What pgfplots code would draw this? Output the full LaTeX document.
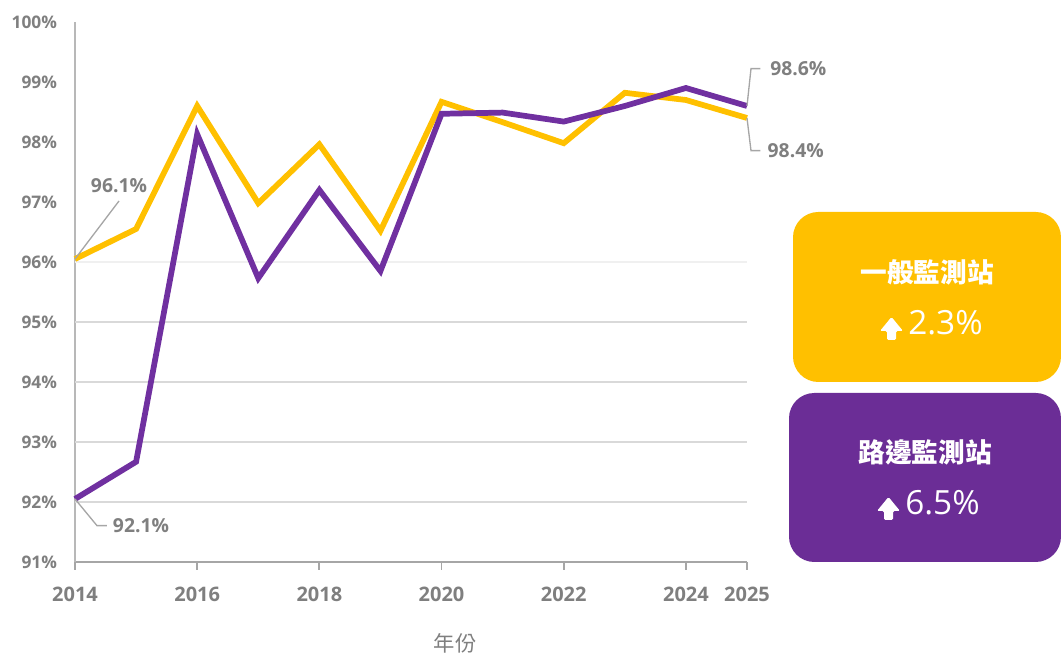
\documentclass[border=0pt]{standalone}
\usepackage{pgfplots}
\pgfplotsset{compat=1.18}
\usepackage{fontspec}
\setmainfont{Open Sans}
\newfontfamily\cjk{Noto Sans CJK TC}
\definecolor{cyel}{HTML}{FFC000}
\definecolor{cpur}{HTML}{7030A0}
\definecolor{cbox}{HTML}{6B2D96}
\definecolor{ctxt}{HTML}{7F7F7F}
\definecolor{cgrid}{HTML}{D9D9D9}
\definecolor{caxis}{HTML}{A6A6A6}

\begin{document}
\begin{tikzpicture}
\useasboundingbox (-56.25pt,-69.75pt) rectangle (739.5pt,421.5pt);
\begin{axis}[
    at={(0,0)}, anchor=south west,
    scale only axis,
    width=504pt, height=405pt,
    xmin=0, xmax=11,
    ymin=91, ymax=100,
    xtick={0,2,4,6,8,10,11},
    xticklabels={2014,2016,2018,2020,2022,2024,2025},
    ytick={91,92,...,100},
    axis x line*=bottom,
    axis y line*=left,
    x axis line style={-, draw=caxis, line width=1.3pt},
    y axis line style={-, draw=caxis!80, line width=1pt},
    ytick style={draw=none},
    xtick style={draw=caxis, line width=1.3pt},
    tick align=outside,
    major tick length=6pt,
    /pgf/number format/assume math mode=true,
    yticklabel={\pgfmathprintnumber{\tick}\%},
    x tick label style={font=\bfseries\fontsize{15}{18}\selectfont, text=ctxt, yshift=-9pt},
    y tick label style={font=\bfseries\fontsize{13}{16}\selectfont, text=ctxt, xshift=-4pt},
    xlabel={\cjk 年份},
    every axis x label/.style={at={(axis description cs:0.5655,0)}, anchor=center, yshift=-61pt, font=\fontsize{16}{19}\selectfont, text=ctxt},
    clip=false,
]
% horizontal grid lines only in the lower part of the chart
\pgfplotsinvokeforeach{92,93,94,95}{
  \draw[cgrid, line width=0.9pt] (axis cs:0,#1) -- (axis cs:11,#1);
}
\draw[cgrid!40, line width=0.9pt] (axis cs:0,96) -- (axis cs:11,96);

% x = years since 2014
\addplot[cyel, line width=4.3pt, line join=miter] coordinates {
  (0,96.05) (1,96.55) (2,98.6) (3,96.98) (4,97.96) (5,96.52)
  (6,98.67) (7,98.33) (8,97.98) (9,98.82) (10,98.7) (11,98.4)};
\addplot[cpur, line width=4.3pt, line join=miter] coordinates {
  (0,92.05) (1,92.67) (2,98.13) (3,95.73) (4,97.2) (5,95.85)
  (6,98.47) (7,98.49) (8,98.34) (9,98.6) (10,98.9) (11,98.6)};

\draw[caxis, line width=1pt] (axis cs:0,96.05) -- ++(33pt,43.5pt)
  node[anchor=south, inner sep=0pt, yshift=6pt, text=ctxt, font=\bfseries\fontsize{14.5}{17}\selectfont] {96.1\%};
\draw[caxis, line width=1pt] (axis cs:0,92.05) -- ++(16.5pt,-20pt) -- ++(7.5pt,0pt)
  node[anchor=west, inner sep=0pt, xshift=4pt, text=ctxt, font=\bfseries\fontsize{14.5}{17}\selectfont] {92.1\%};
\draw[caxis, line width=1pt] (axis cs:11,98.6) -- ++(3pt,28pt) -- ++(7pt,0pt)
  node[anchor=west, inner sep=0pt, xshift=7pt, text=ctxt, font=\bfseries\fontsize{14.5}{17}\selectfont] {98.6\%};
\draw[caxis, line width=1pt] (axis cs:11,98.4) -- ++(3pt,-24.5pt) -- ++(7pt,0pt)
  node[anchor=west, inner sep=0pt, xshift=5pt, text=ctxt, font=\bfseries\fontsize{14.5}{17}\selectfont] {98.4\%};
\end{axis}

% summary boxes, coordinates in pixels of the 1061x655 frame
\begin{scope}[x=0.75pt, y=-0.75pt, shift={(-56.25pt,421.5pt)}]
  \fill[cyel, rounded corners=19pt] (793,212) rectangle (1061,382);
  \fill[cbox, rounded corners=19pt] (789,393) rectangle (1061,562);
  \node[white, font=\cjk\bfseries\fontsize{20}{24}\selectfont] at (927,272) {一般監測站};
  \node[white, font=\cjk\bfseries\fontsize{20}{24}\selectfont] at (925,452) {路邊監測站};
  % block arrows
  \fill[white, rounded corners=1pt] (880,331) -- (891.5,317) -- (903,331) -- (896,331) -- (896,340) -- (887,340) -- (887,331) -- cycle;
  \fill[white, rounded corners=1pt] (877,511) -- (888.5,497) -- (900,511) -- (893,511) -- (893,520) -- (884,520) -- (884,511) -- cycle;
  \node[white, anchor=base west, inner sep=0pt, font=\fontsize{25}{30}\selectfont] at (908,335) {2.3\%};
  \node[white, anchor=base west, inner sep=0pt, font=\fontsize{25}{30}\selectfont] at (905,515) {6.5\%};
\end{scope}
\end{tikzpicture}
\end{document}
